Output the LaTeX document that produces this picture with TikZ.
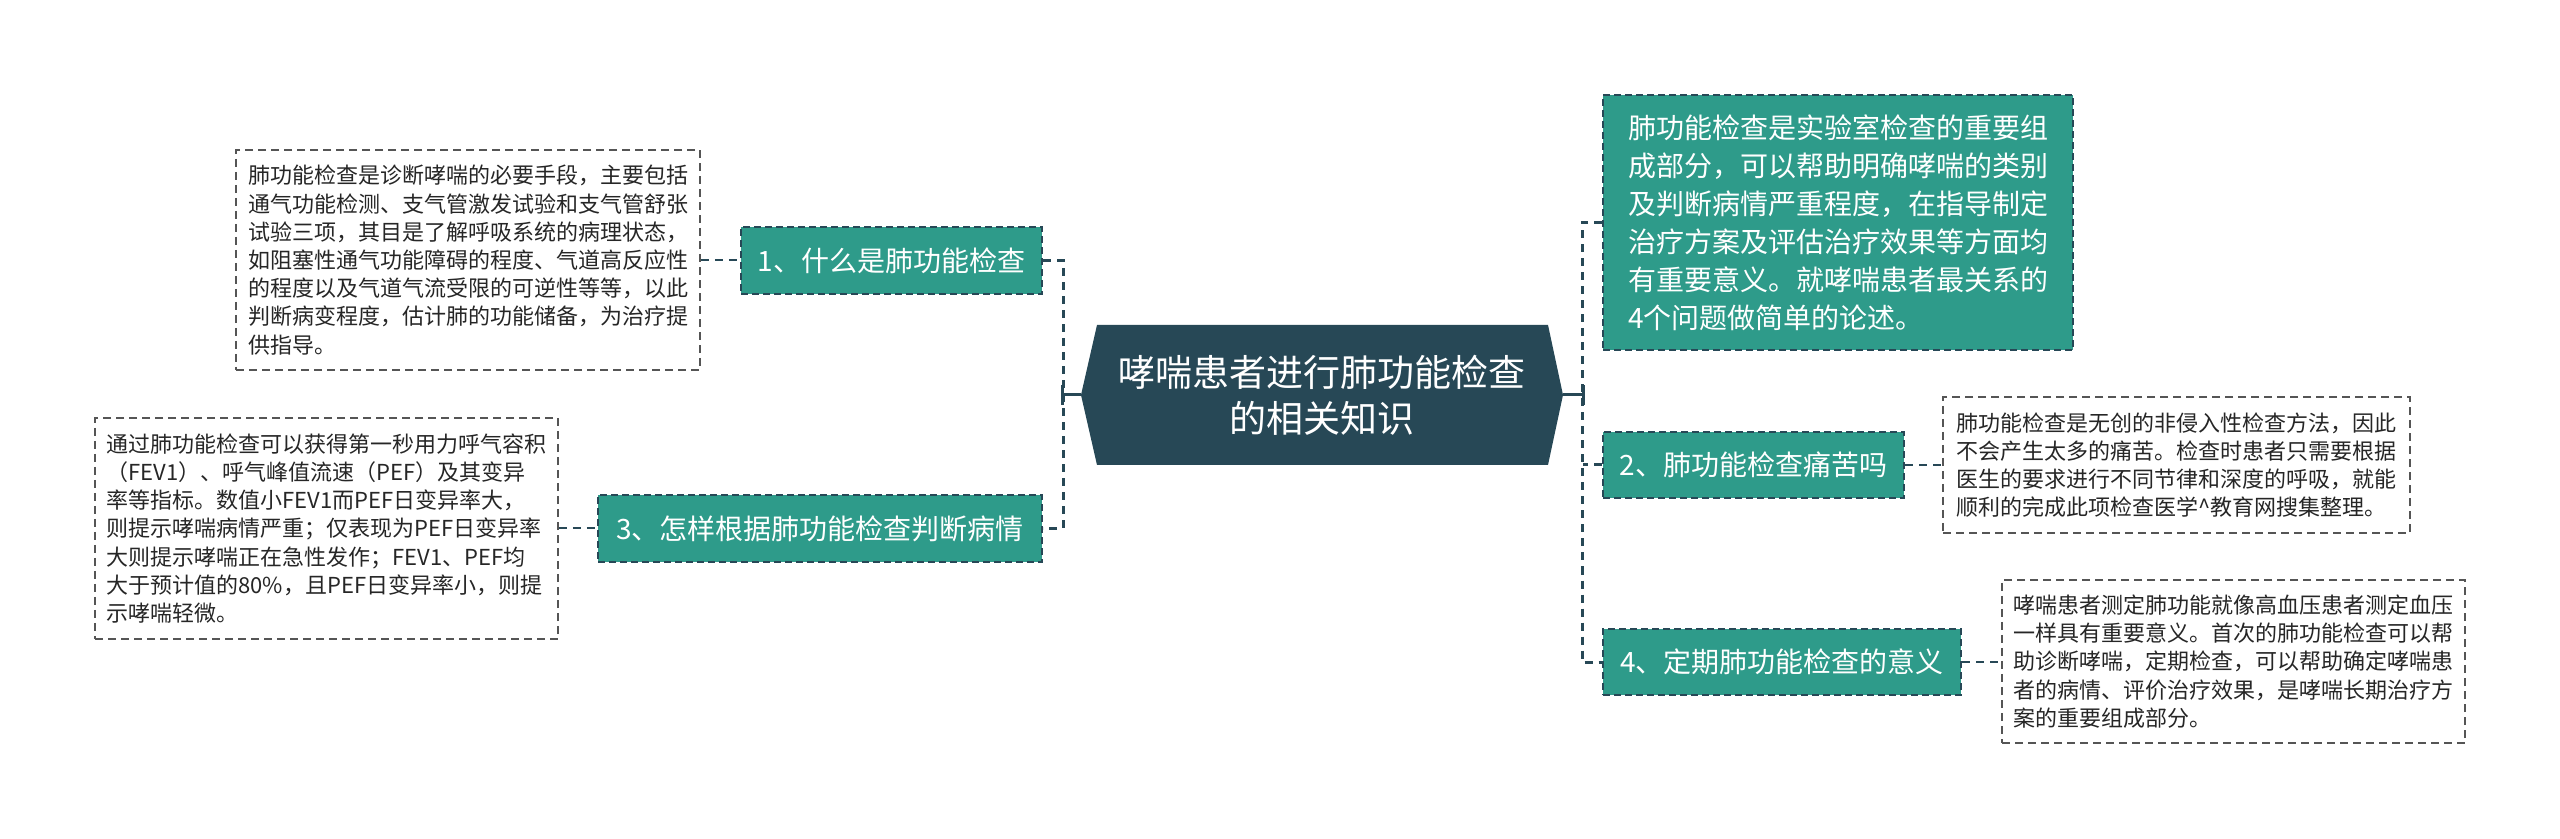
\documentclass[tikz,border=0pt]{standalone}
\usepackage{fontspec}
\setmainfont{Noto Sans CJK SC}
\definecolor{teal}{HTML}{2E9B8A}
\definecolor{dark}{HTML}{274856}
\definecolor{leafline}{HTML}{555555}
\begin{document}
\begin{tikzpicture}[x=0.5pt,y=-0.5pt,
  conn/.style={draw=dark,line width=1.5pt,dash pattern=on 4pt off 3pt},
  thinconn/.style={draw=dark,line width=1pt,dash pattern=on 4pt off 3pt},
  topic/.style={draw=dark,fill=teal,line width=1pt,dash pattern=on 3.5pt off 2pt,
    text=white,font=\fontsize{14}{19}\selectfont,align=left,inner sep=0pt},
  leaf/.style={draw=leafline,line width=0.9pt,dash pattern=on 4pt off 2.5pt,
    text=black!85,font=\fontsize{11}{14.1}\selectfont,align=left,inner sep=0pt}]
\useasboundingbox[fill=white] (0,0) rectangle (2560,839);
% central hexagon
\coordinate (cL) at (1081,395);
\coordinate (cR) at (1563,395);
\fill[dark] (cL) -- (1097,325) -- (1548,325) -- (cR) -- (1548,465) -- (1097,465) -- cycle;
\node[text=white,font=\fontsize{18.5}{23}\selectfont,align=center,inner sep=0pt] (c) at (1322,395)
  {哮喘患者进行肺功能检查\\的相关知识};
% topic nodes
\node[topic,minimum width=150.5pt,minimum height=33.5pt] (n1) at (891.5,260.5) {1、什么是肺功能检查};
\node[topic,minimum width=222pt,minimum height=33.5pt] (n3) at (820,528.5) {3、怎样根据肺功能检查判断病情};
\node[topic,minimum width=235pt,minimum height=127.5pt] (n0) at (1838,222.5)
  {肺功能检查是实验室检查的重要组\\成部分，可以帮助明确哮喘的类别\\及判断病情严重程度，在指导制定\\治疗方案及评估治疗效果等方面均\\有重要意义。就哮喘患者最关系的\\4个问题做简单的论述。};
\node[topic,minimum width=150.5pt,minimum height=33pt] (n2) at (1753.5,465) {2、肺功能检查痛苦吗};
\node[topic,minimum width=179pt,minimum height=33pt] (n4) at (1782,662) {4、定期肺功能检查的意义};
% leaves
\node[leaf,minimum width=232pt,minimum height=110pt] (l1) at (468,260)
  {肺功能检查是诊断哮喘的必要手段，主要包括\\通气功能检测、支气管激发试验和支气管舒张\\试验三项，其目是了解呼吸系统的病理状态，\\如阻塞性通气功能障碍的程度、气道高反应性\\的程度以及气道气流受限的可逆性等等，以此\\判断病变程度，估计肺的功能储备，为治疗提\\供指导。};
\node[leaf,minimum width=231.5pt,minimum height=110.5pt] (l3) at (326.5,528.5)
  {通过肺功能检查可以获得第一秒用力呼气容积\\（FEV1）、呼气峰值流速（PEF）及其变异\\率等指标。数值小FEV1而PEF日变异率大，\\则提示哮喘病情严重；仅表现为PEF日变异率\\大则提示哮喘正在急性发作；FEV1、PEF均\\大于预计值的80\%，且PEF日变异率小，则提\\示哮喘轻微。};
\node[leaf,minimum width=233.5pt,minimum height=68pt] (l2) at (2176.5,465)
  {肺功能检查是无创的非侵入性检查方法，因此\\不会产生太多的痛苦。检查时患者只需要根据\\医生的要求进行不同节律和深度的呼吸，就能\\顺利的完成此项检查医学\textasciicircum{}教育网搜集整理。};
\node[leaf,minimum width=231.5pt,minimum height=81.5pt] (l4) at (2233.5,661.5)
  {哮喘患者测定肺功能就像高血压患者测定血压\\一样具有重要意义。首次的肺功能检查可以帮\\助诊断哮喘，定期检查，可以帮助确定哮喘患\\者的病情、评价治疗效果，是哮喘长期治疗方\\案的重要组成部分。};
% trunks
\coordinate (tl) at (1062,395);
\coordinate (tr) at (1583,395);
\draw[conn] (n1.east) -- ++(20,0) |- (n3.east);
\draw[conn] (n0.west) -- ++(-20,0) |- (n4.west);
\draw[conn] (n2.west) -- (n2.west -| tr);
\draw[dark,line width=1.5pt] (cL) -- (tl);
\draw[dark,line width=1.5pt] (cR) -- (tr);
\draw[dark,line width=1.5pt] ([yshift=-5pt]tl) -- ([yshift=5pt]tl);
\draw[dark,line width=1.5pt] ([yshift=-5pt]tr) -- ([yshift=5pt]tr);
% leaf connectors
\draw[thinconn] (l1.east) -- (l1.east -| n1.west);
\draw[thinconn] (l3.east) -- (l3.east -| n3.west);
\draw[thinconn] (n2.east) -- (n2.east -| l2.west);
\draw[thinconn] (n4.east) -- (n4.east -| l4.west);
\end{tikzpicture}
\end{document}
